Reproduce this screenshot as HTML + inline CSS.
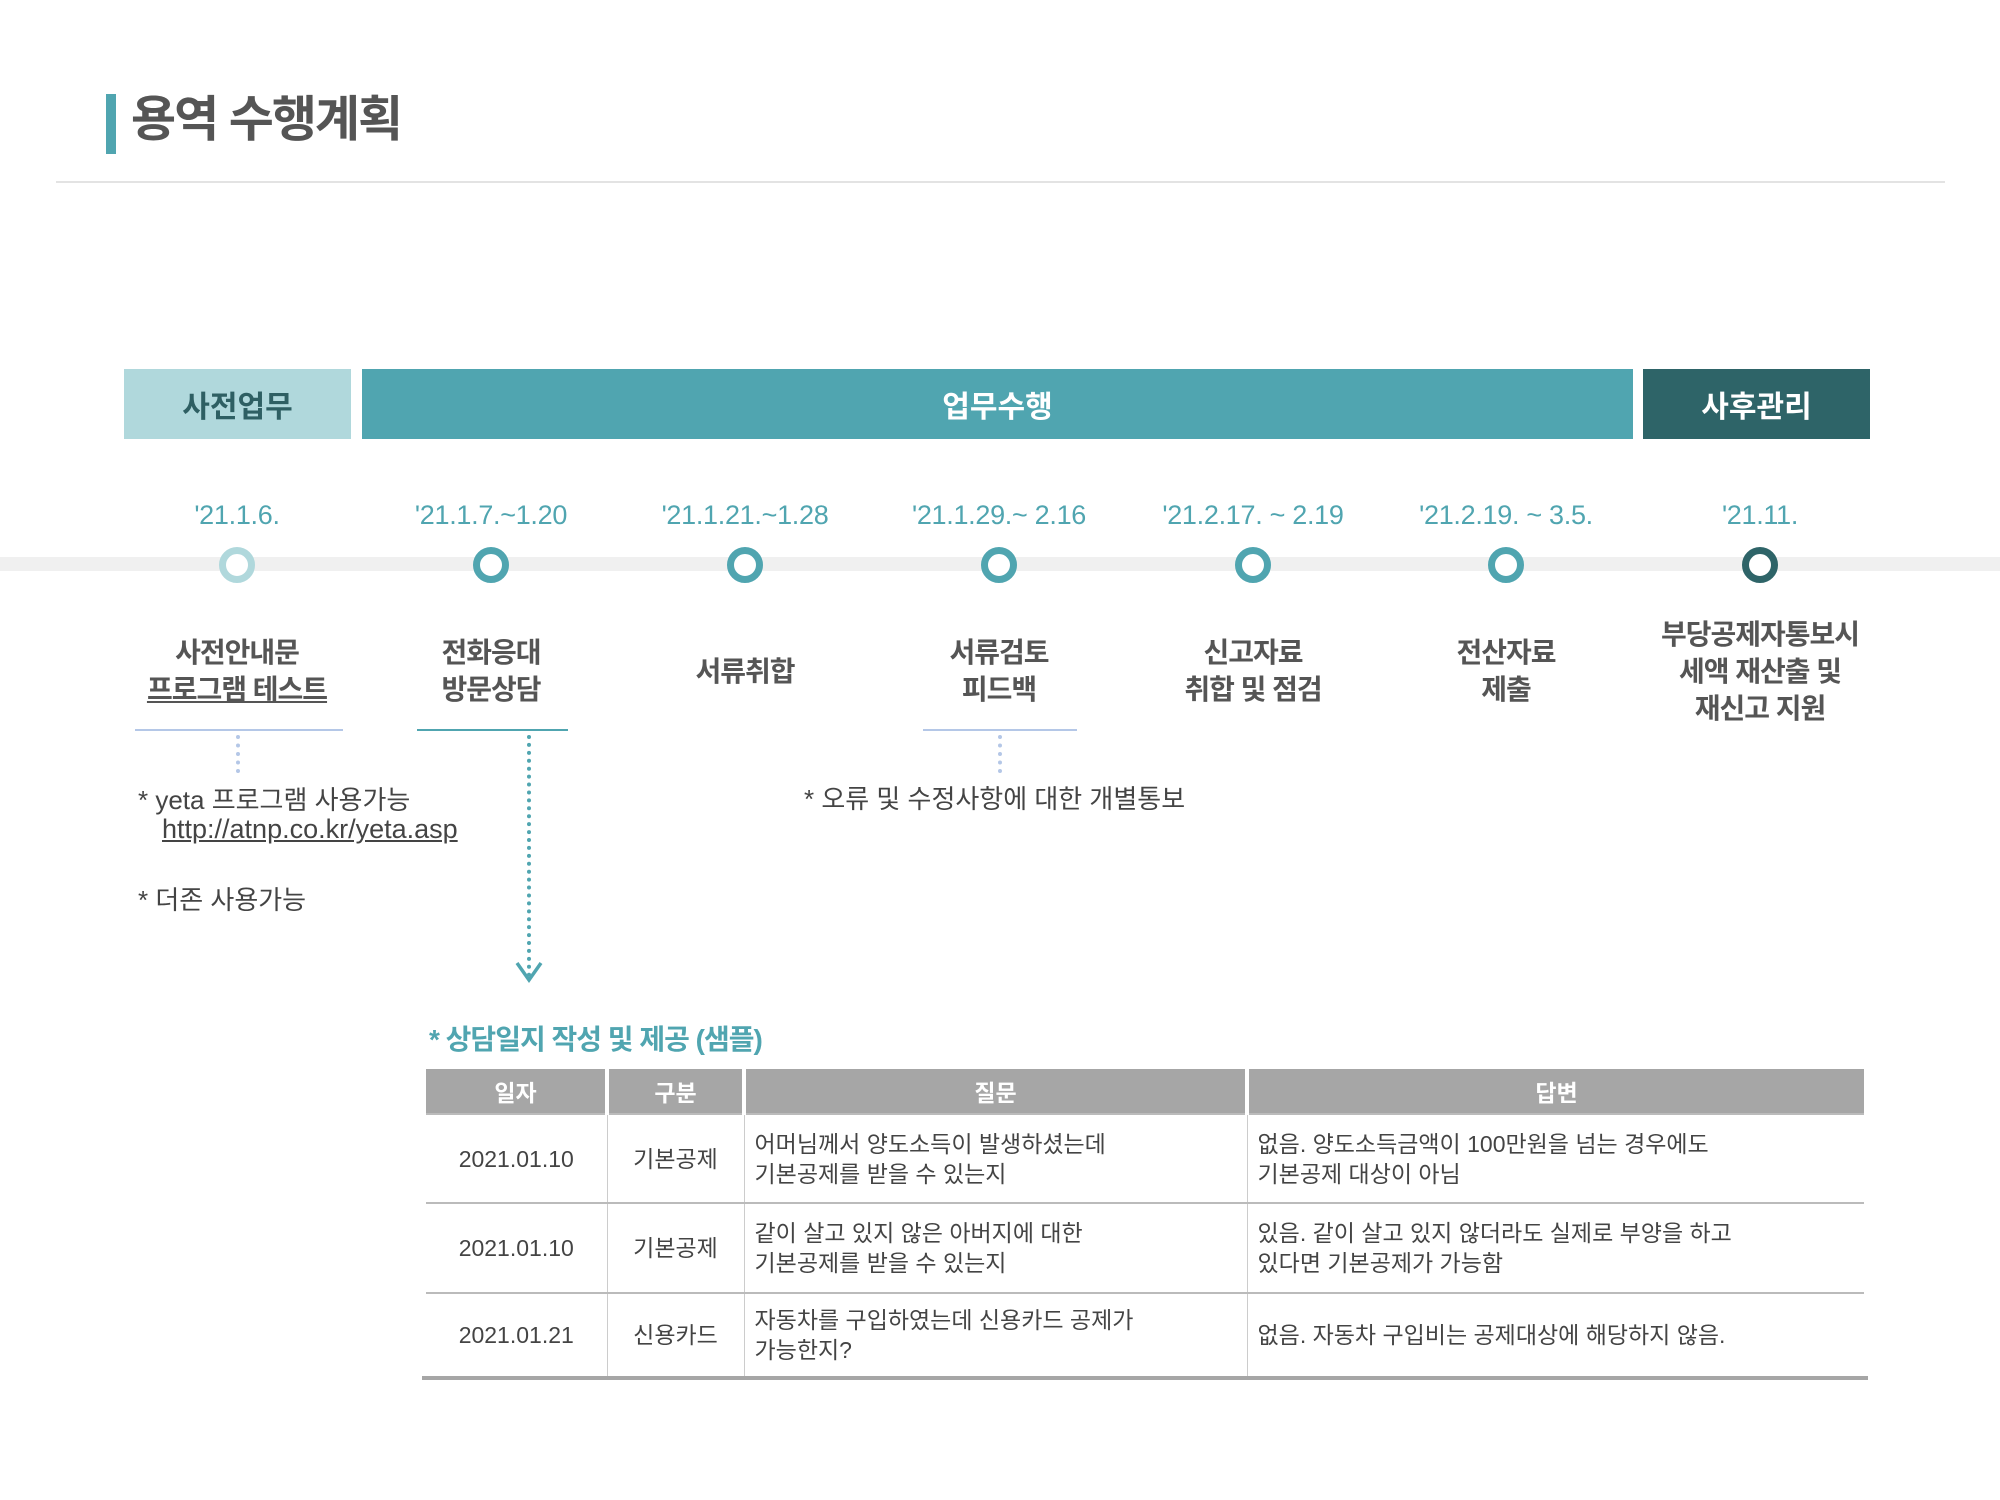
<!DOCTYPE html>
<html><head><meta charset="utf-8"><style>
*{margin:0;padding:0;box-sizing:border-box}
body{width:2000px;height:1500px;background:#fff;position:relative;overflow:hidden;font-family:"Liberation Sans","Noto Sans CJK KR",sans-serif;color:#555}
.a{position:absolute}
.ph{position:absolute;top:369px;height:70px;display:flex;align-items:center;justify-content:center;font-weight:bold;font-size:30px}
.dt{position:absolute;top:500px;width:260px;margin-left:-130px;text-align:center;font-size:27px;color:#50a5b0;font-weight:300;letter-spacing:-0.3px}
.c{position:absolute;top:547px;width:36px;height:36px;margin-left:-18px;border-radius:50%;border:7px solid #50a5b0;background:#fff}
.lb{position:absolute;width:260px;margin-left:-130px;text-align:center;font-size:28px;font-weight:bold;line-height:37px;color:#555;letter-spacing:-1px}
.note{position:absolute;font-size:26px;color:#444}
table{position:absolute;left:426px;top:1069px;width:1438px;border-collapse:collapse;font-size:23px;color:#444}
th{background:#a6a6a6;color:#fff;font-weight:bold;height:45px;border-left:4px solid #fff;font-size:23px}
th:first-child{border-left:none}
td{border-left:1px solid #ccc;border-top:2px solid #bbb;line-height:30px;padding:0 10px}
td:first-child{border-left:none}
tr:nth-child(1) td{border-top:none}
</style></head><body>
<div class="a" style="left:106px;top:94px;width:10px;height:60px;background:#50a5b0"></div>
<div class="a" style="left:131px;top:90px;font-size:49px;font-weight:bold;color:#555;letter-spacing:-2px;line-height:60px">용역 수행계획</div>
<div class="a" style="left:56px;top:181px;width:1889px;height:2px;background:#e3e3e3"></div>

<div class="ph" style="left:124px;width:227px;background:#b0d8dc;color:#2e5f63">사전업무</div>
<div class="ph" style="left:362px;width:1271px;background:#50a5b0;color:#fff">업무수행</div>
<div class="ph" style="left:1643px;width:227px;background:#2e6468;color:#fff">사후관리</div>

<div class="a" style="left:0;top:557px;width:2000px;height:14px;background:#f0f0f0"></div>

<div class="dt" style="left:237px">'21.1.6.</div>
<div class="dt" style="left:491px">'21.1.7.~1.20</div>
<div class="dt" style="left:745px">'21.1.21.~1.28</div>
<div class="dt" style="left:999px">'21.1.29.~ 2.16</div>
<div class="dt" style="left:1253px">'21.2.17. ~ 2.19</div>
<div class="dt" style="left:1506px">'21.2.19. ~ 3.5.</div>
<div class="dt" style="left:1760px">'21.11.</div>

<div class="c" style="left:237px;border-color:#b0d8dc"></div>
<div class="c" style="left:491px"></div>
<div class="c" style="left:745px"></div>
<div class="c" style="left:999px"></div>
<div class="c" style="left:1253px"></div>
<div class="c" style="left:1506px"></div>
<div class="c" style="left:1760px;border-color:#2e6468"></div>

<div class="lb" style="left:237px;top:634px">사전안내문<br><span style="text-decoration:underline">프로그램 테스트</span></div>
<div class="lb" style="left:491px;top:634px">전화응대<br>방문상담</div>
<div class="lb" style="left:745px;top:653px">서류취합</div>
<div class="lb" style="left:999px;top:634px">서류검토<br>피드백</div>
<div class="lb" style="left:1253px;top:634px">신고자료<br>취합 및 점검</div>
<div class="lb" style="left:1506px;top:634px">전산자료<br>제출</div>
<div class="lb" style="left:1760px;top:616px">부당공제자통보시<br>세액 재산출 및<br>재신고 지원</div>

<div class="a" style="left:135px;top:729px;width:208px;height:2px;background:#b4c7e7"></div>
<div class="a" style="left:417px;top:729px;width:151px;height:2px;background:#50a5b0"></div>
<div class="a" style="left:923px;top:729px;width:154px;height:2px;background:#b4c7e7"></div>
<div class="a" style="left:236px;top:735px;height:38px;border-left:4px dotted #b4c7e7"></div>
<div class="a" style="left:998px;top:735px;height:38px;border-left:4px dotted #b4c7e7"></div>
<div class="a" style="left:527px;top:735px;height:242px;border-left:4px dotted #50a5b0"></div>
<svg class="a" style="left:514px;top:960px" width="30" height="24"><polyline points="3,3 15,20 27,3" fill="none" stroke="#50a5b0" stroke-width="3.5"/></svg>

<div class="note" style="left:138px;top:780px">* yeta 프로그램 사용가능</div>
<div class="note" style="left:162px;top:814px;text-decoration:underline;font-size:27px">http://atnp.co.kr/yeta.asp</div>
<div class="note" style="left:138px;top:880px">* 더존 사용가능</div>
<div class="note" style="left:804px;top:779px">* 오류 및 수정사항에 대한 개별통보</div>

<div class="a" style="left:429px;top:1018px;font-size:28px;font-weight:bold;color:#50a5b0;letter-spacing:-1px">* 상담일지 작성 및 제공 (샘플)</div>

<table>
<tr><th style="width:181px">일자</th><th style="width:137px">구분</th><th style="width:503px">질문</th><th>답변</th></tr>
<tr style="height:89px"><td style="text-align:center">2021.01.10</td><td style="text-align:center">기본공제</td><td>어머님께서 양도소득이 발생하셨는데<br>기본공제를 받을 수 있는지</td><td>없음. 양도소득금액이 100만원을 넘는 경우에도<br>기본공제 대상이 아님</td></tr>
<tr style="height:90px"><td style="text-align:center">2021.01.10</td><td style="text-align:center">기본공제</td><td>같이 살고 있지 않은 아버지에 대한<br>기본공제를 받을 수 있는지</td><td>있음. 같이 살고 있지 않더라도 실제로 부양을 하고<br>있다면 기본공제가 가능함</td></tr>
<tr style="height:83px"><td style="text-align:center">2021.01.21</td><td style="text-align:center">신용카드</td><td>자동차를 구입하였는데 신용카드 공제가<br>가능한지?</td><td>없음. 자동차 구입비는 공제대상에 해당하지 않음.</td></tr>
</table>
<div class="a" style="left:422px;top:1376px;width:1446px;height:4px;background:#a6a6a6"></div>
</body></html>
